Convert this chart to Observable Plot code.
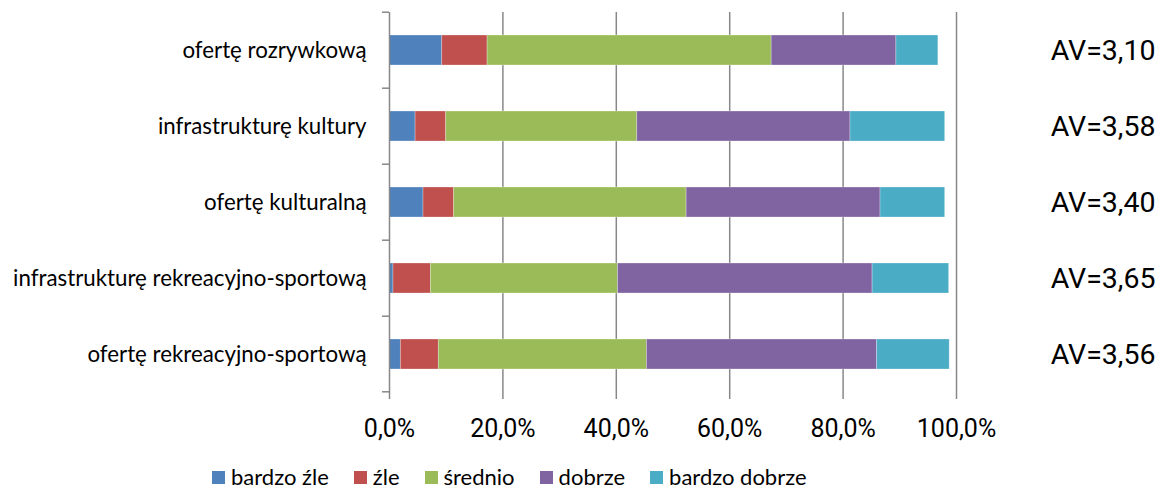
<!DOCTYPE html>
<html><head><meta charset="utf-8">
<script src="https://cdn.jsdelivr.net/npm/d3@7"></script>
<script src="https://cdn.jsdelivr.net/npm/@observablehq/plot@0.6"></script>
<style>
body{margin:0;background:#fff;}
#chart{width:1160px;height:493px;position:relative;overflow:hidden;}
#legend{position:absolute;left:212px;top:462px;display:flex;align-items:center;font-family:Lato,"Open Sans",sans-serif;font-size:22px;color:#000;line-height:30px;}
#legend .item{display:flex;align-items:center;margin-right:25px;}
#legend .sw{width:13px;height:13px;margin-right:6px;}
</style></head><body><div id="chart"></div>
<script>
const categories = ["ofertę rozrywkową","infrastrukturę kultury","ofertę kulturalną","infrastrukturę rekreacyjno-sportową","ofertę rekreacyjno-sportową"];
const series = ["bardzo źle","źle","średnio","dobrze","bardzo dobrze"];
const colors = ["#4F81BD","#C0504D","#9BBB59","#8064A2","#4BACC6"];
const bardzoZle = [9.3,4.6,6.0,0.7,2.0];
const zle = [8.0,5.4,5.4,6.6,6.7];
const srednio = [50.1,33.7,41.0,33.0,36.7];
const dobrze = [22.0,37.6,34.2,44.9,40.6];
const bardzoDobrze = [7.4,16.7,11.4,13.5,12.8];
const averages = ["AV=3,10","AV=3,58","AV=3,40","AV=3,65","AV=3,56"];
const xTicks = [0,20,40,60,80,100];

const seriesValues = [bardzoZle, zle, srednio, dobrze, bardzoDobrze];
const rows = [];
categories.forEach((c, i) => {
  series.forEach((s, j) => rows.push({category: c, series: s, value: seriesValues[j][i]}));
});
const avRows = categories.map((c, i) => ({category: c, label: averages[i]}));

const fmt = d => d.toFixed(1).replace(".", ",") + "%";

const plot = Plot.plot({
  width: 1160,
  height: 455,
  marginLeft: 389,
  marginRight: 204,
  marginTop: 12,
  marginBottom: 62,
  style: {fontFamily: "Lato, 'Open Sans', sans-serif", color: "#000", background: "#fff"},
  x: {domain: [0, 100], ticks: xTicks, tickFormat: fmt, label: null},
  y: {domain: categories, paddingInner: 0.6, paddingOuter: 0.3, label: null},
  color: {domain: series, range: colors},
  marks: [
    Plot.ruleX(xTicks.slice(1), {stroke: "#888", strokeWidth: 1.5}),
    Plot.barX(rows, Plot.stackX({y: "category", x: "value", fill: "series", stroke: "#fff", strokeOpacity: 0.35, strokeWidth: 0.8})),
    Plot.ruleX([0], {stroke: "#888", strokeWidth: 1.5}),
    Plot.ruleY([0], {stroke: "#888", strokeWidth: 1.5}),
    Plot.axisX({ticks: xTicks, tickFormat: fmt, tickSize: 6, stroke: "#888", strokeWidth: 1.5, tickPadding: 20, fontSize: 25, fontFamily: "Roboto, sans-serif", label: null}),
    Plot.axisY({tickSize: 0, tickPadding: 23, fontSize: 22.3, label: null}),
    Plot.text(avRows, {y: "category", text: "label", frameAnchor: "right", textAnchor: "end", dx: 199, fontSize: 28.5, fontFamily: "Roboto, sans-serif", fill: "#000"})
  ]
});

// small tick marks at category band boundaries on the left axis
const ys = plot.scale("y");
const svg = d3.select(plot);
const step = ys.step;
const bounds = categories.map(c => ys.apply(c) - step * 0.3).concat([ys.apply(categories[categories.length - 1]) + ys.bandwidth + step * 0.3]);
svg.append("g").selectAll("line").data(bounds).join("line")
  .attr("x1", 389 - 7).attr("x2", 389).attr("y1", d => d).attr("y2", d => d)
  .attr("stroke", "#888").attr("stroke-width", 1.5);

const chart = document.getElementById("chart");
chart.appendChild(plot);
const legend = document.createElement("div");
legend.id = "legend";
series.forEach((s, i) => {
  const it = document.createElement("div"); it.className = "item";
  const sw = document.createElement("div"); sw.className = "sw"; sw.style.background = colors[i];
  const t = document.createElement("span"); t.textContent = s;
  it.appendChild(sw); it.appendChild(t); legend.appendChild(it);
});
chart.appendChild(legend);
</script></body></html>
